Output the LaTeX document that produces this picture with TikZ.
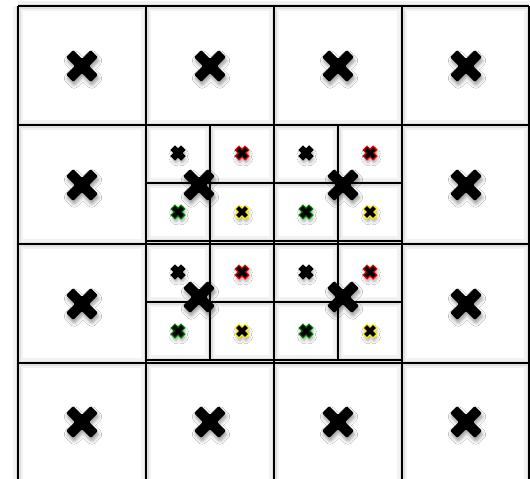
\documentclass[tikz,border=0pt]{standalone}
\usetikzlibrary{shadows.blur}

\begin{document}
\begin{tikzpicture}[x=1pt,y=-1pt,
 haloout/.style={draw=black!5,line width=10pt},
 haloin/.style={draw=black!12,line width=5pt},
 gridline/.style={draw=black,line width=1.6pt},
 xshadow/.style={blur shadow={shadow xshift=1pt,shadow yshift=-3.5pt,shadow blur radius=3.5pt,shadow opacity=40}},
 pics/bigx/.style={code={
  \fill[black,xshadow,rotate=45,rounded corners=1pt] (5,5)--(5,17.5)--(-5,17.5)--(-5,5)--(-17.5,5)--(-17.5,-5)--(-5,-5)--(-5,-17.5)--(5,-17.5)--(5,-5)--(17.5,-5)--(17.5,5)--cycle;}},
 pics/smallx/.style={code={
  \fill[black,xshadow,preaction={draw=#1,line width=2.6pt},rotate=45] (2,2)--(2,6.3)--(-2,6.3)--(-2,2)--(-6.3,2)--(-6.3,-2)--(-2,-2)--(-2,-6.3)--(2,-6.3)--(2,-2)--(6.3,-2)--(6.3,2)--cycle;}}]
\useasboundingbox (0,0) rectangle (530,479);
\clip (0,0) rectangle (530,479);
\fill[white] (0,0) rectangle (530,479);

% grid: halo first, then the lines
\foreach \sty in {haloout,haloin,gridline}{
 \foreach \y in {6,125,244,363}
  \draw[\sty] (18,\y) -- (529,\y);
 \foreach \x in {18,146,274,402,529}
  \draw[\sty] (\x,6) -- (\x,490);
 % finer grid in the middle
 \foreach \y in {183,241,302,360}
  \draw[\sty] (146,\y) -- (402,\y);
 \foreach \x in {210,338}
  \draw[\sty] (\x,125) -- (\x,361);
}

% coarse markers round the border
\foreach \x/\y in {82/66,210/66,338/66,466/66,82/185,466/185,82/304,466/304,82/422,210/422,338/422,466/422}
 \pic at (\x,\y) {bigx};

% fine markers
\foreach \x in {178,306}
 \foreach \y in {153,272}{
  \pic at (\x,\y) {smallx=black};
  \pic at (\x+64,\y) {smallx=red};
  \pic at (\x,\y+59) {smallx=green!50!black};
  \pic at (\x+64,\y+59) {smallx=yellow};
 }

% coarse markers in the middle
\foreach \x/\y in {199/185,343/185,199/297,343/297}
 \pic at (\x,\y) {bigx};
\end{tikzpicture}
\end{document}
